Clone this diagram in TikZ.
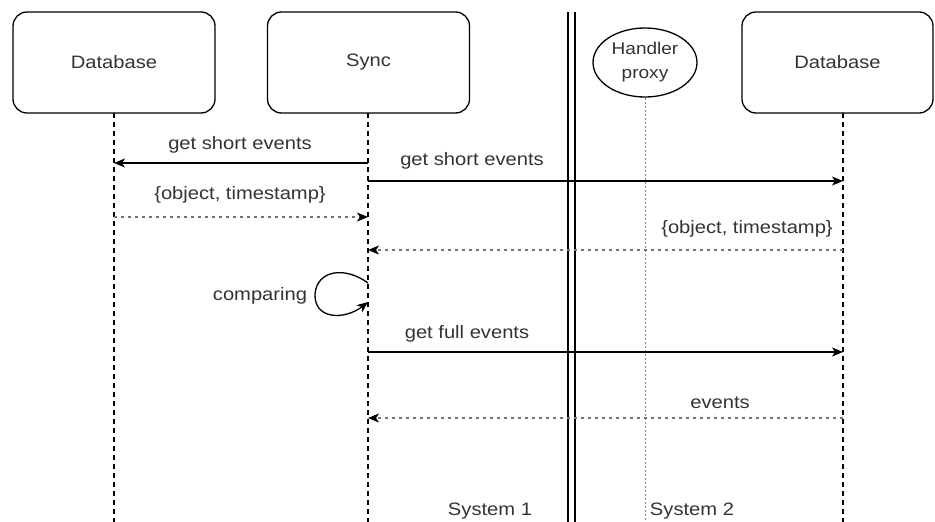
\documentclass[tikz,border=0pt]{standalone}
\usepackage{fontspec}
\setmainfont{Liberation Sans}[FakeStretch=1.12]
\usetikzlibrary{shapes.geometric,arrows.meta}
\begin{document}
\begin{tikzpicture}[x=1pt,y=-1pt,
  font=\fontsize{18}{21}\selectfont,
  actor/.style={draw=black,line width=1.3pt,rounded corners=14pt,minimum width=202pt,minimum height=101pt,inner sep=0pt,text=black!80},
  proxy/.style={draw=black,line width=1.3pt,ellipse,minimum width=104pt,minimum height=69pt,inner sep=0pt,align=center,text=black!80,font=\fontsize{17}{24}\selectfont},
  lifeline/.style={black,line width=1.2pt,dash pattern=on 5pt off 4pt},
  thinlife/.style={black!50,line width=0.8pt,dash pattern=on 2pt off 2pt},
  msg/.style={black,line width=1.3pt,-{Stealth[length=11pt,width=9pt,inset=3pt]}},
  ret/.style={black!55,line width=1.1pt,dash pattern=on 3pt off 4pt,-{Stealth[length=11pt,width=9pt,inset=3pt,black]}},
  lbl/.style={text=black!80,inner sep=0pt},
  sep/.style={black,line width=1.3pt}]
\useasboundingbox (0,0) rectangle (935,522);
% actors
\node[actor] (db1) at (114,62.5) {Database};
\node[actor] (sync) at (368.5,62.5) {Sync};
\node[proxy] (hp) at (645,62.5) {Handler\\proxy};
\node[actor,minimum width=191pt] (db2) at (837.5,62.5) {Database};
% lifelines
\coordinate (db1b) at (114,522);
\coordinate (syncb) at (368,522);
\coordinate (hpb) at (645,522);
\coordinate (db2b) at (843,522);
\draw[lifeline] (114,113) -- (db1b);
\draw[lifeline] (368,113) -- (syncb);
\draw[thinlife] (hp.south) -- (hpb);
\draw[lifeline] (843,113) -- (db2b);
% system separator
\coordinate (s1t) at (568,12); \coordinate (s1b) at (568,522);
\coordinate (s2t) at (575,12); \coordinate (s2b) at (575,522);
\draw[sep] (s1t) -- (s1b);
\draw[sep] (s2t) -- (s2b);
% message anchors
\coordinate (m1s) at (368,163); \coordinate (m1e) at (114,163);
\coordinate (m2s) at (368,181); \coordinate (m2e) at (843,181);
\coordinate (m3s) at (114,217); \coordinate (m3e) at (368,217);
\coordinate (m4s) at (843,250); \coordinate (m4e) at (368,250);
\coordinate (c1) at (368,283); \coordinate (c2) at (368,302);
\coordinate (m6s) at (368,352); \coordinate (m6e) at (843,352);
\coordinate (m7s) at (843,418); \coordinate (m7e) at (368,418);
% messages
\draw[msg] (m1s) -- (m1e);
\node[lbl] (l1) at (240,145) {get short events};
\draw[msg] (m2s) -- (m2e);
\node[lbl] (l2) at (472,161) {get short events};
\draw[ret] (m3s) -- (m3e);
\node[lbl] (l3) at (240,195) {\{object, timestamp\}};
\draw[ret] (m4s) -- (m4e);
\node[lbl] (l4) at (747,229) {\{object, timestamp\}};
\draw[black,line width=1.3pt,-{Stealth[length=11pt,width=9pt,inset=3pt]}]
  (c1) .. controls (345,266) and (317,270) .. (315,294)
       .. controls (314,320) and (345,320) .. (c2);
\node[lbl] (l5) at (260,296) {comparing};
\draw[msg] (m6s) -- (m6e);
\node[lbl] (l6) at (467,334) {get full events};
\draw[ret] (m7s) -- (m7e);
\node[lbl] (l7) at (720,403) {events};
% system labels
\node[lbl] (sys1) at (490,511) {System 1};
\node[lbl] (sys2) at (692,511) {System 2};
\end{tikzpicture}
\end{document}
